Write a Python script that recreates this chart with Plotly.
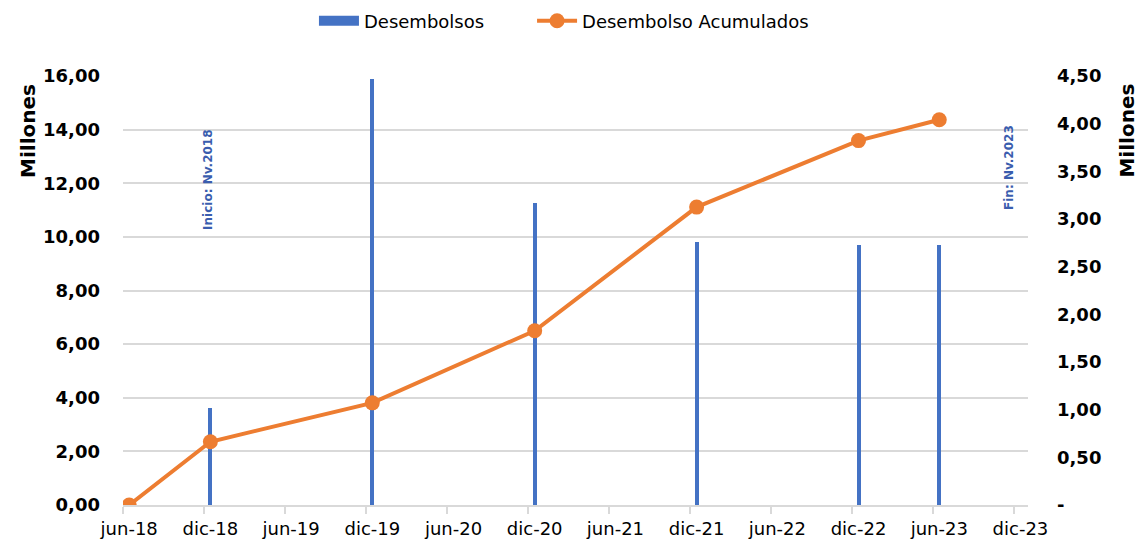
import plotly.graph_objects as go

# Data
acum_dates = ["2018-06-15", "2018-12-15", "2019-12-15", "2020-12-15", "2021-12-15", "2022-12-15", "2023-06-15"]
acum_values = [0.0, 2.36, 3.81, 6.50, 11.11, 13.59, 14.37]  # left axis (Millones)

desem_dates = ["2018-12-15", "2019-12-15", "2020-12-15", "2021-12-15", "2022-12-15", "2023-06-15"]
desem_values = [1.02, 4.47, 3.17, 2.76, 2.73, 2.73]  # right axis (Millones)

x_tick_dates = ["2018-06-15", "2018-12-15", "2019-06-15", "2019-12-15", "2020-06-15", "2020-12-15",
                "2021-06-15", "2021-12-15", "2022-06-15", "2022-12-15", "2023-06-15", "2023-12-15"]
x_tick_marks = ["2018-06-01", "2018-12-01", "2019-06-01", "2019-12-01", "2020-06-01", "2020-12-01",
                "2021-06-01", "2021-12-01", "2022-06-01", "2022-12-01", "2023-06-01", "2023-12-01"]
x_tick_labels = ["jun-18", "dic-18", "jun-19", "dic-19", "jun-20", "dic-20",
                 "jun-21", "dic-21", "jun-22", "dic-22", "jun-23", "dic-23"]

left_ticks = [0, 2, 4, 6, 8, 10, 12, 14, 16]
left_labels = ["0,00", "2,00", "4,00", "6,00", "8,00", "10,00", "12,00", "14,00", "16,00"]
right_ticks = [0, 0.5, 1, 1.5, 2, 2.5, 3, 3.5, 4, 4.5]
right_labels = ["-", "0,50", "1,00", "1,50", "2,00", "2,50", "3,00", "3,50", "4,00", "4,50"]

FONT = "DejaVu Sans"
BLUE = "#4472C4"
ORANGE = "#ED7D31"
GRID = "#d9d9d9"

fig = go.Figure()
fig.add_trace(go.Bar(
    x=desem_dates, y=desem_values, name="Desembolsos",
    marker=dict(color=BLUE, line=dict(width=0)),
    width=9 * 86400000, yaxis="y", xaxis="x", showlegend=False,
))
# legend proxy for the bars (wide rectangle symbol)
fig.add_trace(go.Scatter(
    x=[None], y=[None], name="Desembolsos", mode="lines",
    line=dict(color=BLUE, width=14), yaxis="y", xaxis="x", legend="legend",
))
fig.add_trace(go.Scatter(
    x=acum_dates, y=acum_values, name="Desembolso Acumulados",
    mode="lines+markers",
    line=dict(color=ORANGE, width=4),
    marker=dict(color=ORANGE, size=15),
    yaxis="y2", xaxis="x", legend="legend2",
))

legend_common = dict(orientation="h", xanchor="left", y=1.128, yanchor="middle",
                     font=dict(size=18, family=FONT), itemwidth=40,
                     bgcolor="rgba(0,0,0,0)")

fig.update_layout(
    width=1140, height=546,
    margin=dict(l=123, r=112, t=76, b=41, autoexpand=False),
    paper_bgcolor="white", plot_bgcolor="white",
    font=dict(family=FONT, size=18, color="black"),
    showlegend=True,
    legend=dict(x=0.211, **legend_common),
    legend2=dict(x=0.452, **legend_common),
    xaxis=dict(
        type="date", range=["2018-06-01", "2024-01-01"],
        tickmode="array", tickvals=x_tick_dates, ticktext=x_tick_labels,
        ticks="outside", ticklen=0, tickcolor=GRID,
        minor=dict(tickvals=x_tick_marks, ticklen=7, tickcolor=GRID, tickwidth=2, showgrid=False),
        showgrid=False, showline=True, linecolor=GRID, linewidth=2,
        tickfont=dict(size=18, family=FONT, color="black"),
        ticklabelstandoff=6,
        anchor="y",
    ),
    yaxis=dict(
        side="right", range=[0, 4.5],
        tickmode="array", tickvals=right_ticks, ticktext=right_labels,
        showgrid=False, zeroline=False, showline=False,
        tickfont=dict(size=18, family=FONT, color="black", weight="bold"),
        ticklabelstandoff=28,
    ),
    yaxis2=dict(
        side="left", overlaying="y", range=[0, 16],
        tickmode="array", tickvals=left_ticks, ticktext=left_labels,
        showgrid=True, gridcolor=GRID, gridwidth=2,
        zeroline=False, showline=False,
        tickfont=dict(size=18, family=FONT, color="black", weight="bold"),
        ticklabelstandoff=22,
    ),
    bargap=0,
)

ann_color = "#3A5DAE"
ann_common = dict(xref="paper", yref="paper", textangle=-90, showarrow=False,
                  xanchor="center", yanchor="middle")
fig.add_annotation(text="<b>Inicio: Nv.2018</b>", x=0.094, y=0.758,
                   font=dict(size=12, family=FONT, color=ann_color), **ann_common)
fig.add_annotation(text="<b>Fin: Nv.2023</b>", x=0.979, y=0.788,
                   font=dict(size=12, family=FONT, color=ann_color), **ann_common)
fig.add_annotation(text="<b>Millones</b>", x=-0.105, y=0.872,
                   font=dict(size=20, family=FONT, color="black"), **ann_common)
fig.add_annotation(text="<b>Millones</b>", x=1.109, y=0.872,
                   font=dict(size=20, family=FONT, color="black"), **ann_common)

fig.write_html("out.html",
               config={"displayModeBar": False},
               post_script="document.body.style.margin='0';document.body.style.overflow='hidden';")
